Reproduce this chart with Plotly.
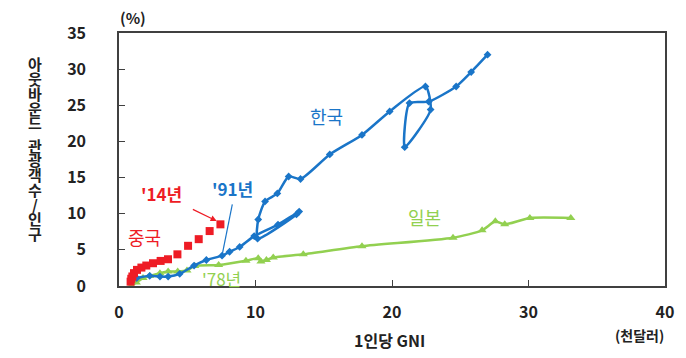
import plotly.graph_objects as go

# 1인당 GNI(천달러), 아웃바운드 관광객수/인구(%)
korea_gni = [1.3, 2.25, 3.0, 3.6, 4.45, 5.5, 6.4, 7.55, 8.1, 8.84, 9.9, 11.65, 13.2, 13.0, 10.15,
             10.2, 10.7, 11.6, 12.43, 13.3, 15.44, 17.8, 19.83, 22.45, 22.83, 20.93, 21.28, 22.69,
             24.7, 25.8, 27.0]
korea_out = [1.1, 1.41, 1.3, 1.3, 1.68, 2.83, 3.6, 4.2, 4.74, 5.4, 6.9, 8.5, 10.3, 9.9, 6.55,
             9.2, 11.7, 12.8, 15.15, 14.8, 18.2, 20.9, 24.15, 27.6, 24.4, 19.2, 25.3, 25.5,
             27.6, 29.6, 32.0]

china_gni = [0.85, 0.9, 0.98, 1.1, 1.32, 1.64, 2.0, 2.49, 3.05, 3.59, 4.28, 5.06, 5.84, 6.64, 7.43]
china_out = [0.6, 1.0, 1.32, 1.78, 2.23, 2.55, 2.83, 3.15, 3.47, 3.7, 4.38, 5.56, 6.48, 7.6, 8.53]

japan_gni = [0.9, 1.27, 1.76, 2.25, 3.0, 3.6, 4.3, 4.98, 5.55, 7.3, 9.3, 10.2, 10.4, 10.8, 11.3,
             13.5, 17.8, 24.47, 26.6, 27.57, 28.26, 30.1, 33.1]
japan_out = [0.05, 0.5, 1.1, 1.4, 1.78, 2.0, 2.0, 2.14, 2.78, 2.92, 3.5, 3.84, 3.4, 3.6, 3.95,
             4.38, 5.5, 6.67, 7.7, 8.95, 8.53, 9.4, 9.4]

x_ticks = [0, 10, 20, 30, 40]
y_ticks = [0, 5, 10, 15, 20, 25, 30, 35]

BLUE = '#1a75c8'
RED = '#ee1c25'
GREEN = '#92d050'
FONT = 'Noto Sans CJK KR'

fig = go.Figure()

fig.add_trace(go.Scatter(
    x=japan_gni, y=japan_out, mode='lines+markers', name='일본',
    line=dict(color=GREEN, width=2.5, shape='spline', smoothing=0.6),
    marker=dict(symbol='triangle-up', size=8, color=GREEN),
))
fig.add_trace(go.Scatter(
    x=korea_gni, y=korea_out, mode='lines+markers', name='한국',
    line=dict(color=BLUE, width=2.5, shape='spline', smoothing=0.6),
    marker=dict(symbol='diamond', size=6, color=BLUE),
))
fig.add_trace(go.Scatter(
    x=china_gni, y=china_out, mode='markers', name='중국',
    marker=dict(symbol='square', size=8, color=RED),
))

def label(x, y, text, color, size=18, bold=False):
    fig.add_annotation(x=x, y=y, xref='x', yref='y', text=text, showarrow=False,
                       font=dict(family=FONT, size=size, color=color,
                                 weight='bold' if bold else 'normal'))

def paper_text(x, y, text, size):
    fig.add_annotation(x=x, y=y, xref='paper', yref='paper', text=text, showarrow=False,
                       xanchor='center', yanchor='middle',
                       font=dict(family=FONT, size=size, color='#222222', weight='bold'))

label(15.2, 23.5, '한국', BLUE)
label(22.4, 9.6, '일본', GREEN)
label(1.9, 6.75, '중국', RED)
label(8.33, 13.5, "'91년", BLUE, 17, True)
label(3.13, 12.8, "'14년", RED, 17, True)
label(7.5, 1.1, "'78년", GREEN, 17)

# '14년 화살표
fig.add_annotation(x=7.15, y=9.0, ax=5.3, ay=10.7, xref='x', yref='y', axref='x', ayref='y',
                   text='', showarrow=True, arrowhead=2, arrowsize=1, arrowwidth=1.2,
                   arrowcolor=RED)
# '91년 지시선
fig.add_shape(type='line', x0=8.3, y0=11.3, x1=7.58, y1=4.5, xref='x', yref='y',
              line=dict(color=BLUE, width=1.2))

# 세로 축 제목 (글자 세로 쌓기)
title_chars = ['아', '웃', '바', '운', '드', '관', '광', '객', '수', '/', '인', '구']
top_px, step = 62, 14.9
for i, ch in enumerate(title_chars):
    pos = i if i < 5 else i + 0.5
    py = top_px + pos * step
    paper_text(-0.154, (286 - py) / 255, ch, 15)

paper_text(0.026, 1.06, '(%)', 15)
paper_text(0.496, -0.212, '1인당 GNI', 16)
paper_text(0.954, -0.192, '(천달러)', 14)

axis_common = dict(showgrid=False, zeroline=False, showline=True, mirror=True,
                   linecolor='#404040', linewidth=1.5, ticks='inside', ticklen=6,
                   tickcolor='#404040', tickwidth=1.2,
                   tickfont=dict(family=FONT, size=16, color='#222222', weight='bold'))

# 페이지 기본 여백(8px)을 감안한 크기
fig.update_layout(
    width=678, height=350,
    margin=dict(l=111, r=21, t=23, b=72),
    plot_bgcolor='white', paper_bgcolor='white',
    showlegend=False,
    xaxis=dict(range=[0, 40], tickvals=x_ticks, ticklabelstandoff=11, **axis_common),
    yaxis=dict(range=[0, 35], tickvals=y_ticks, ticklabelstandoff=28, **axis_common),
)

fig.write_html("out.html")
